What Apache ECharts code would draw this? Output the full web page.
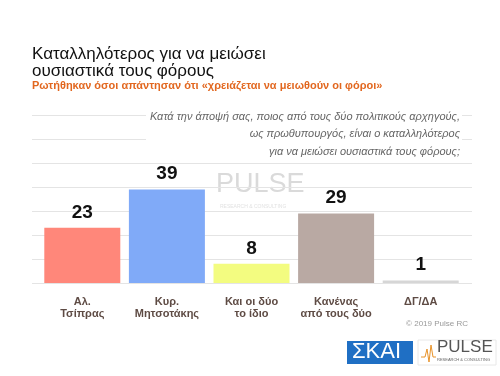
<!DOCTYPE html>
<html>
<head>
<meta charset="utf-8">
<script src="https://cdn.jsdelivr.net/npm/echarts@6/dist/echarts.min.js"></script>
<style>
  html, body { margin: 0; padding: 0; background: #fff; }
  #main { width: 500px; height: 376px; }
</style>
</head>
<body>
<div id="main"></div>
<script>
const categories = ['Αλ.\nΤσίπρας', 'Κυρ.\nΜητσοτάκης', 'Και οι δύο\nτο ίδιο', 'Κανένας\nαπό τους δύο', 'ΔΓ/ΔΑ']
const values = [23, 39, 8, 29, 1]
const barColors = ['#FF877A', '#80AAF8', '#F3FC80', '#B9A9A3', '#D6D6D6']

const font = 'Arial, "Liberation Sans", sans-serif'

const chart = echarts.init(document.getElementById('main'), null, { renderer: 'canvas' })

const option = {
  backgroundColor: '#fff',
  animation: false,
  grid: [
    // gridlines only, slightly wider than the bars
    { left: 32, right: 28, top: 115, bottom: 93 },
    // bars
    { left: 40, right: 37, top: 115, bottom: 93 }
  ],
  xAxis: [
    { gridIndex: 0, type: 'category', data: categories, show: false },
    {
      gridIndex: 1,
      type: 'category',
      data: categories,
      axisLine: { show: false },
      axisTick: { show: false },
      axisLabel: {
        interval: 0,
        color: '#5E4B44',
        fontFamily: font,
        fontWeight: 'bold',
        fontSize: 11,
        lineHeight: 12,
        margin: 13
      }
    }
  ],
  yAxis: [
    {
      gridIndex: 0, type: 'value', min: 0, max: 70, interval: 10,
      axisLine: { show: false }, axisTick: { show: false }, axisLabel: { show: false },
      splitLine: { lineStyle: { color: '#E4E4E4', width: 1 } }
    },
    {
      gridIndex: 1, type: 'value', min: 0, max: 70, interval: 10,
      show: false, splitLine: { show: false }
    }
  ],
  graphic: [
    // watermark
    {
      type: 'text', left: 216, top: 171, z: 0,
      style: { text: 'PULSE', fill: '#DADADA', font: '300 27px ' + font, letterSpacing: 5 }
    },
    {
      type: 'text', left: 220, top: 204, z: 0,
      style: { text: 'RESEARCH & CONSULTING', fill: '#E2E2E2', font: '5px ' + font, letterSpacing: 1.5 }
    },
    // question text on a white box
    {
      type: 'rect', shape: { x: 146, y: 106, width: 316, height: 48 }, z: 50,
      style: { fill: '#fff' }
    },
    {
      type: 'text', x: 460, y: 108, z: 51,
      style: {
        text: 'Κατά την άποψή σας, ποιος από τους δύο πολιτικούς αρχηγούς,\nως πρωθυπουργός, είναι ο καταλληλότερος\nγια να μειώσει ουσιαστικά τους φόρους;',
        align: 'right', verticalAlign: 'top', fill: '#666', font: 'italic 11px ' + font, lineHeight: 17.5
      }
    },
    // title + subtitle
    {
      type: 'text', left: 32, top: 46,
      style: {
        text: 'Καταλληλότερος για να μειώσει\nουσιαστικά τους φόρους',
        fill: '#111', font: '17px ' + font, lineHeight: 17
      }
    },
    {
      type: 'text', left: 32, top: 80,
      style: {
        text: 'Ρωτήθηκαν όσοι απάντησαν ότι «χρειάζεται να μειωθούν οι φόροι»',
        fill: '#E2671F', font: 'bold 11px ' + font
      }
    },
    // footer
    {
      type: 'text', right: 32, top: 320,
      style: { text: '© 2019 Pulse RC', fill: '#999', font: '8px ' + font }
    },
    {
      type: 'rect', shape: { x: 347, y: 341, width: 66, height: 23 },
      style: { fill: '#1F6FC4' }
    },
    {
      type: 'text', left: 352, top: 341,
      style: { text: 'ΣΚΑΪ', fill: '#fff', font: '22px ' + font, letterSpacing: 2 }
    },
    {
      type: 'rect', shape: { x: 418, y: 340, width: 78, height: 25 },
      style: { fill: '#fff', stroke: '#E8E8E8', lineWidth: 1 }
    },
    {
      type: 'polyline',
      shape: { points: [[421, 357], [425, 357], [427, 349], [429, 362], [431, 345], [433, 357], [436, 357]] },
      style: { stroke: '#E8932A', lineWidth: 1, fill: null }
    },
    {
      type: 'text', left: 437, top: 339,
      style: { text: 'PULSE', fill: '#555', font: '300 17px ' + font, letterSpacing: 2 }
    },
    {
      type: 'text', left: 437, top: 358,
      style: { text: 'RESEARCH & CONSULTING', fill: '#666', font: '4px ' + font }
    }
  ],
  series: [
    {
      type: 'bar',
      xAxisIndex: 1,
      yAxisIndex: 1,
      barWidth: 76,
      z: 10,
      data: values.map((v, i) => ({ value: v, itemStyle: { color: barColors[i] } })),
      label: {
        show: true,
        position: 'top',
        distance: 6,
        color: '#111',
        fontFamily: font,
        fontWeight: 'bold',
        fontSize: 19
      }
    }
  ]
}

chart.setOption(option)
</script>
</body>
</html>
